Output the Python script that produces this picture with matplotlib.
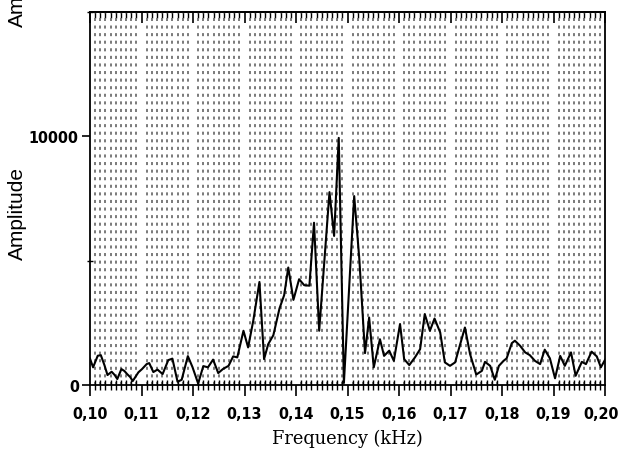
import numpy as np
import matplotlib
matplotlib.use("Agg")
import matplotlib.pyplot as plt
import matplotlib.transforms as mtransforms
from matplotlib import font_manager
from matplotlib.ticker import MultipleLocator, FixedLocator, FuncFormatter, NullFormatter

# ---- data ----
frequency_khz = [
    0.1000, 0.1006, 0.1015, 0.1021, 0.1028, 0.1034, 0.1042, 0.1048, 0.1053, 0.1061,
    0.1067, 0.1072, 0.1078, 0.1083, 0.1094, 0.1101, 0.1110, 0.1115, 0.1123, 0.1131,
    0.1141, 0.1152, 0.1160, 0.1170, 0.1178, 0.1190, 0.1199, 0.1210, 0.1220, 0.1229,
    0.1239, 0.1249, 0.1258, 0.1269, 0.1278, 0.1286, 0.1298, 0.1307, 0.1317, 0.1329,
    0.1338, 0.1346, 0.1356, 0.1368, 0.1377, 0.1385, 0.1395, 0.1406, 0.1416, 0.1426,
    0.1435, 0.1445, 0.1465, 0.1474, 0.1483, 0.1493, 0.1513, 0.1523, 0.1534, 0.1542,
    0.1551, 0.1563, 0.1571, 0.1581, 0.1590, 0.1602, 0.1610, 0.1620, 0.1631, 0.1641,
    0.1650, 0.1660, 0.1669, 0.1680, 0.1689, 0.1699, 0.1709, 0.1718, 0.1728, 0.1738,
    0.1750, 0.1761, 0.1767, 0.1777, 0.1786, 0.1794, 0.1803, 0.1809, 0.1819, 0.1825,
    0.1835, 0.1845, 0.1854, 0.1864, 0.1874, 0.1883, 0.1893, 0.1903, 0.1913, 0.1922,
    0.1934, 0.1943, 0.1955, 0.1963, 0.1974, 0.1984, 0.1992, 0.2000,
]
amplitude = [
    1060, 710, 1175, 1200, 800, 400, 533, 400, 240, 640,
    560, 440, 320, 160, 510, 640, 840, 880, 520, 620,
    440, 1000, 1060, 130, 210, 1160, 720, 60, 760, 710,
    1020, 480, 640, 770, 1150, 1110, 2180, 1510, 2580, 4140,
    1040, 1640, 2000, 3080, 3610, 4720, 3420, 4250, 4010, 3990,
    6520, 2180, 7750, 5990, 9930, 80, 7590, 5050, 1280, 2710,
    710, 1840, 1170, 1380, 970, 2450, 1040, 800, 1110, 1440,
    2850, 2180, 2670, 2110, 910, 770, 910, 1580, 2310, 1240,
    420, 570, 930, 770, 210, 770, 970, 1070, 1680, 1780,
    1580, 1310, 1200, 970, 840, 1420, 1070, 270, 1170, 770,
    1310, 370, 930, 840, 1340, 1150, 710, 1010,
]
x_major_ticks = [0.10, 0.11, 0.12, 0.13, 0.14, 0.15, 0.16, 0.17, 0.18, 0.19, 0.20]
y_major_ticks = [0, 10000]
x_label = "Frequency (kHz)"
y_label = "Amplitude"

# ---- choose a narrow bold font for the tick labels ----
def _narrow_font():
    for fam, stretch in (("Liberation Sans Narrow", "normal"),
                         ("DejaVu Sans", "condensed")):
        fp = font_manager.FontProperties(family=fam, weight="bold", stretch=stretch)
        try:
            path = font_manager.findfont(fp, fallback_to_default=False)
        except Exception:
            continue
        if "Narrow" in path or "Condensed" in path:
            return dict(family=fam, weight="bold", stretch=stretch, size=11.5)
    return dict(family="Liberation Sans", weight="bold", size=9.5)

tick_font = _narrow_font()

# ---- figure ----
fig = plt.figure(figsize=(6.2, 4.52), dpi=100)
ax = fig.add_axes([90 / 620, 1 - 386 / 452, (605 - 90) / 620, (386 - 12.7) / 452])

ax.set_xlim(0.10, 0.20)
ax.set_ylim(0, 15000)

minor_x = [round(0.10 + k * 0.001, 3) for k in range(101) if k % 10 != 0]
ax.xaxis.set_major_locator(FixedLocator(x_major_ticks))
ax.xaxis.set_minor_locator(FixedLocator(minor_x))
ax.grid(True, which="minor", axis="x", color="#707070", linestyle=(0, (1.7, 2.5)),
        linewidth=1.3)
ax.grid(False, which="major")

ax.plot(frequency_khz, amplitude, color="black", linewidth=1.5, zorder=3)

ax.yaxis.set_major_locator(FixedLocator(y_major_ticks))
ax.yaxis.set_minor_locator(MultipleLocator(5000))

ax.xaxis.set_major_formatter(FuncFormatter(lambda v, p: f"{v:.2f}".replace(".", ",")))
ax.yaxis.set_major_formatter(FuncFormatter(lambda v, p: f"{int(round(v))}"))
fp_ticks = font_manager.FontProperties(**tick_font)
for lab in ax.get_xticklabels() + ax.get_yticklabels():
    lab.set_fontproperties(fp_ticks)

ax.tick_params(axis="x", which="major", direction="out", length=8, width=1.2,
               pad=7, top=False)
ax.tick_params(axis="x", which="minor", direction="inout", length=7, width=1.0,
               top=False)
ax.tick_params(axis="y", which="major", direction="out", length=6, width=1.2, pad=2,
               right=False)
ax.tick_params(axis="y", which="minor", direction="inout", length=5, width=1.0,
               right=False)

# nudge the last x label slightly left so it stays inside the canvas
last_lab = ax.get_xticklabels()[-1]
last_lab.set_transform(last_lab.get_transform() +
                       mtransforms.ScaledTranslation(-4 / 100, 0, fig.dpi_scale_trans))

# top axis: inward ticks, no labels
sec = ax.secondary_xaxis("top")
sec.xaxis.set_major_locator(FixedLocator(x_major_ticks))
sec.xaxis.set_minor_locator(FixedLocator(minor_x))
sec.xaxis.set_major_formatter(NullFormatter())
sec.tick_params(which="major", direction="in", length=8, width=1.2)
sec.tick_params(which="minor", direction="in", length=4, width=1.0)
sec.spines["top"].set_linewidth(1.3)

for sp in ax.spines.values():
    sp.set_linewidth(1.3)
    sp.set_color("black")

ax.set_xlabel(x_label, family="DejaVu Serif", fontsize=12.8, labelpad=6)
fig.text(17 / 620, 1 - 214 / 452, y_label, rotation=90, ha="center", va="center",
         family="Liberation Sans", fontsize=15)
# clipped duplicate label fragment at top-left
fig.text(17 / 620, 1 - 27 / 452, y_label, rotation=90, ha="center", va="bottom",
         family="Liberation Sans", fontsize=15)

fig.savefig("out.png", dpi=100)
